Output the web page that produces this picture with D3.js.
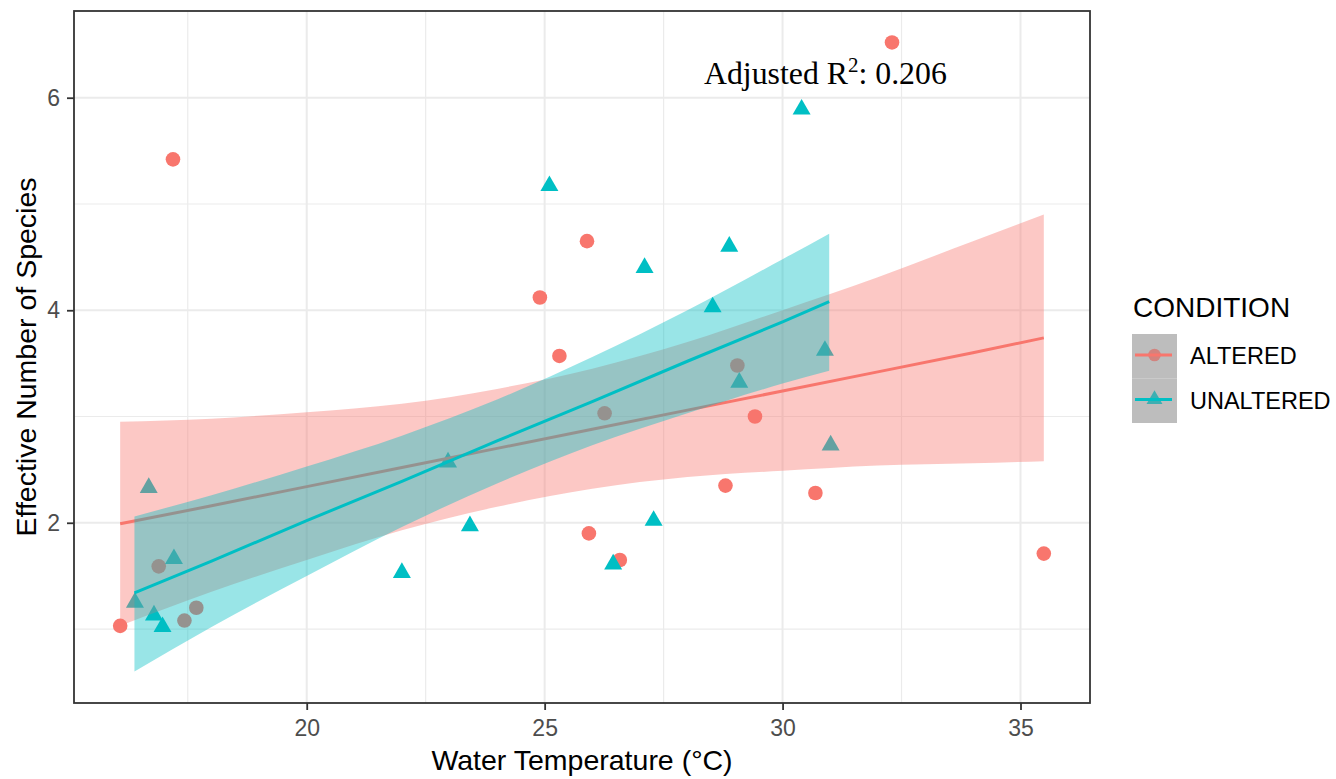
<!DOCTYPE html>
<html>
<head>
<meta charset="utf-8">
<script src="https://cdn.jsdelivr.net/npm/d3@7"></script>
<style>
    body { margin: 0; background: #ffffff; }
    .chart-container { width: 1336px; height: 779px; }
</style>
</head>
<body>
<div class="chart-container"></div>
<script>
// Altered sites (circles)
var alteredTemp = [16.08, 17.19, 16.89, 17.43, 17.68, 24.9, 25.31, 25.89, 32.3, 26.26, 25.93, 26.58, 28.8, 29.42, 30.69, 29.05, 35.49];
var alteredSpecies = [1.03, 5.42, 1.59, 1.08, 1.2, 4.12, 3.57, 4.65, 6.52, 3.03, 1.9, 1.65, 2.35, 3.0, 2.28, 3.48, 1.71];

// Unaltered sites (triangles)
var unalteredTemp = [16.68, 17.21, 16.39, 16.79, 16.97, 22.0, 22.97, 23.43, 25.1, 27.1, 28.53, 28.88, 30.4, 29.09, 30.89, 31.01, 27.29, 26.44];
var unalteredSpecies = [2.33, 1.66, 1.25, 1.13, 1.02, 1.53, 2.57, 1.97, 5.17, 4.4, 4.03, 4.6, 5.89, 3.32, 3.62, 2.73, 2.02, 1.61];

// lm fit with 95% band
var alteredFitTemp = [16.08, 18, 20, 22, 24, 26, 28, 30, 32, 34, 35.49];
var alteredFit = [1.99, 2.16, 2.34, 2.52, 2.70, 2.88, 3.06, 3.24, 3.42, 3.60, 3.74];
var alteredLow = [1.03, 1.35, 1.65, 1.93, 2.15, 2.32, 2.43, 2.49, 2.54, 2.56, 2.58];
var alteredHigh = [2.95, 2.98, 3.04, 3.12, 3.26, 3.45, 3.70, 4.00, 4.31, 4.65, 4.90];

var unalteredFitTemp = [16.38, 18, 20, 22, 24, 26, 28, 30, 30.98];
var unalteredFit = [1.34, 1.64, 2.02, 2.39, 2.77, 3.14, 3.52, 3.89, 4.08];
var unalteredLow = [0.60, 1.02, 1.50, 1.96, 2.37, 2.73, 3.03, 3.31, 3.43];
var unalteredHigh = [2.06, 2.26, 2.53, 2.82, 3.16, 3.56, 4.00, 4.48, 4.72];

var conditions = ['ALTERED', 'UNALTERED'];
var xTicks = [20, 25, 30, 35];
var yTicks = [2, 4, 6];
var xMinor = [17.5, 22.5, 27.5, 32.5];
var yMinor = [1, 3, 5];
var rSquared = '0.206';

var chart = {
    draw: function () {
        this.defineComponents();
        this.addGrid();
        this.addPoints();
        this.addSmooth(0);
        this.addSmooth(1);
        this.addBorder();
        this.addAxises();
        this.addLabels();
        this.addLegend();
        this.addAnnotation();
    },
    defineComponents: function () {
        this.colors = ['#F8766D', '#00BFC4'];
        this.groups = [
            { temp: alteredTemp, species: alteredSpecies, fitTemp: alteredFitTemp, fit: alteredFit, low: alteredLow, high: alteredHigh },
            { temp: unalteredTemp, species: unalteredSpecies, fitTemp: unalteredFitTemp, fit: unalteredFit, low: unalteredLow, high: unalteredHigh }
        ];

        this.panel = { left: 74, top: 11, right: 1090, bottom: 703 };

        this.svg = d3.select('.chart-container')
            .append('svg')
            .attr('width', 1336)
            .attr('height', 779)
            .style('font-family', 'Liberation Sans, Arial, sans-serif');

        // ggplot style 5% expansion over everything drawn
        var allX = alteredTemp.concat(unalteredTemp, alteredFitTemp, unalteredFitTemp);
        var allY = alteredSpecies.concat(unalteredSpecies, alteredLow, alteredHigh, unalteredLow, unalteredHigh);
        var xExt = d3.extent(allX), yExt = d3.extent(allY);
        var xPad = (xExt[1] - xExt[0]) * 0.05, yPad = (yExt[1] - yExt[0]) * 0.05;

        this.xScale = d3.scaleLinear()
            .domain([xExt[0] - xPad, xExt[1] + xPad])
            .range([this.panel.left, this.panel.right]);

        this.yScale = d3.scaleLinear()
            .domain([yExt[0] - yPad, yExt[1] + yPad])
            .range([this.panel.bottom, this.panel.top]);
    },
    addGrid: function () {
        var that = this;
        var p = this.panel;
        var grid = this.svg.append('g');

        grid.selectAll('.minor-x').data(xMinor).enter().append('line')
            .attr('x1', function (d) { return that.xScale(d); })
            .attr('x2', function (d) { return that.xScale(d); })
            .attr('y1', p.top).attr('y2', p.bottom)
            .attr('stroke', '#EBEBEB').attr('stroke-width', 1.2);
        grid.selectAll('.minor-y').data(yMinor).enter().append('line')
            .attr('y1', function (d) { return that.yScale(d); })
            .attr('y2', function (d) { return that.yScale(d); })
            .attr('x1', p.left).attr('x2', p.right)
            .attr('stroke', '#EBEBEB').attr('stroke-width', 1.2);
        grid.selectAll('.major-x').data(xTicks).enter().append('line')
            .attr('x1', function (d) { return that.xScale(d); })
            .attr('x2', function (d) { return that.xScale(d); })
            .attr('y1', p.top).attr('y2', p.bottom)
            .attr('stroke', '#EBEBEB').attr('stroke-width', 2);
        grid.selectAll('.major-y').data(yTicks).enter().append('line')
            .attr('y1', function (d) { return that.yScale(d); })
            .attr('y2', function (d) { return that.yScale(d); })
            .attr('x1', p.left).attr('x2', p.right)
            .attr('stroke', '#EBEBEB').attr('stroke-width', 2);
    },
    addPoints: function () {
        var that = this;
        var altered = alteredTemp.map(function (t, i) { return [t, alteredSpecies[i]]; });
        var unaltered = unalteredTemp.map(function (t, i) { return [t, unalteredSpecies[i]]; });

        this.svg.append('g').selectAll('circle')
            .data(altered)
            .enter()
            .append('circle')
            .attr('cx', function (d) { return that.xScale(d[0]); })
            .attr('cy', function (d) { return that.yScale(d[1]); })
            .attr('r', 7.3)
            .attr('fill', this.colors[0]);

        this.svg.append('g').selectAll('path')
            .data(unaltered)
            .enter()
            .append('path')
            .attr('d', d3.symbol().type(d3.symbolTriangle).size(140))
            .attr('transform', function (d) {
                return 'translate(' + that.xScale(d[0]) + ',' + that.yScale(d[1]) + ')';
            })
            .attr('fill', this.colors[1]);
    },
    addSmooth: function (k) {
        var that = this;
        var g = this.groups[k];
        var rows = g.fitTemp.map(function (t, i) {
            return { t: t, fit: g.fit[i], low: g.low[i], high: g.high[i] };
        });

        this.svg.append('path')
            .datum(rows)
            .attr('fill', this.colors[k])
            .attr('opacity', 0.4)
            .attr('d', d3.area()
                .curve(d3.curveMonotoneX)
                .x(function (d) { return that.xScale(d.t); })
                .y0(function (d) { return that.yScale(d.low); })
                .y1(function (d) { return that.yScale(d.high); })
            );

        this.svg.append('path')
            .datum(rows)
            .attr('fill', 'none')
            .attr('stroke', this.colors[k])
            .attr('stroke-width', 3)
            .attr('d', d3.line()
                .x(function (d) { return that.xScale(d.t); })
                .y(function (d) { return that.yScale(d.fit); })
            );
    },
    addBorder: function () {
        var p = this.panel;
        this.svg.append('rect')
            .attr('x', p.left)
            .attr('y', p.top)
            .attr('width', p.right - p.left)
            .attr('height', p.bottom - p.top)
            .attr('fill', 'none')
            .attr('stroke', '#333333')
            .attr('stroke-width', 1.8);
    },
    addAxises: function () {
        var xAxis = d3.axisBottom(this.xScale).tickValues(xTicks).tickSize(7).tickPadding(10);
        var xg = this.svg.append('g')
            .attr('transform', 'translate(0,' + this.panel.bottom + ')')
            .call(xAxis);

        var yAxis = d3.axisLeft(this.yScale).tickValues(yTicks).tickFormat(d3.format('d')).tickSize(7).tickPadding(7);
        var yg = this.svg.append('g')
            .attr('transform', 'translate(' + this.panel.left + ',0)')
            .call(yAxis);

        [xg, yg].forEach(function (g) {
            g.select('.domain').remove();
            g.selectAll('.tick line').attr('stroke', '#333333').attr('stroke-width', 1.8);
            g.selectAll('.tick text')
                .attr('fill', '#4D4D4D')
                .style('font-size', '23px')
                .style('font-family', 'Liberation Sans, Arial, sans-serif');
        });
    },
    addLabels: function () {
        var p = this.panel;
        this.svg.append('text')
            .attr('x', (p.left + p.right) / 2)
            .attr('y', 770)
            .attr('text-anchor', 'middle')
            .style('font-size', '28.5px')
            .text('Water Temperature (°C)');

        this.svg.append('text')
            .attr('transform', 'translate(36,' + (p.top + p.bottom) / 2 + ') rotate(-90)')
            .attr('text-anchor', 'middle')
            .style('font-size', '28.5px')
            .text('Effective Number of Species');
    },
    addLegend: function () {
        var that = this;
        var legend = this.svg.append('g').attr('transform', 'translate(1132,0)');

        legend.append('text')
            .attr('x', 1)
            .attr('y', 317)
            .style('font-size', '28px')
            .text('CONDITION');

        var item = legend.selectAll('.key')
            .data(conditions)
            .enter()
            .append('g')
            .attr('transform', function (d, i) { return 'translate(0,' + (334 + i * 44.5) + ')'; });

        item.append('rect')
            .attr('width', 45)
            .attr('height', 44.5)
            .attr('fill', '#D6D6D6');

        item.each(function (d, i) {
            var key = d3.select(this);
            if (i === 0) {
                key.append('circle').attr('cx', 22.5).attr('cy', 21).attr('r', 6.3).attr('fill', that.colors[0]);
            } else {
                key.append('path')
                    .attr('d', d3.symbol().type(d3.symbolTriangle).size(110))
                    .attr('transform', 'translate(22.5,21)')
                    .attr('fill', that.colors[1]);
            }
            key.append('rect')
                .attr('width', 45)
                .attr('height', 44.5)
                .attr('fill', '#999999')
                .attr('opacity', 0.4);
            key.append('line')
                .attr('x1', 3).attr('x2', 40)
                .attr('y1', 21).attr('y2', 21)
                .attr('stroke', that.colors[i])
                .attr('stroke-width', 3);
        });

        item.append('text')
            .attr('x', 58)
            .attr('y', 22)
            .attr('dy', '0.36em')
            .style('font-size', '23.5px')
            .text(function (d) { return d; });
    },
    addAnnotation: function () {
        var label = this.svg.append('text')
            .attr('x', this.xScale(30.9))
            .attr('y', this.yScale(6.23))
            .attr('dy', '0.33em')
            .attr('text-anchor', 'middle')
            .style('font-family', 'Liberation Serif, Times New Roman, serif')
            .style('font-size', '31.8px');

        label.append('tspan').text('Adjusted R');
        label.append('tspan').attr('dy', -12).style('font-size', '21px').text('2');
        label.append('tspan').attr('dy', 12).text(': ' + rSquared);
    }
};

chart.draw();
</script>
</body>
</html>
